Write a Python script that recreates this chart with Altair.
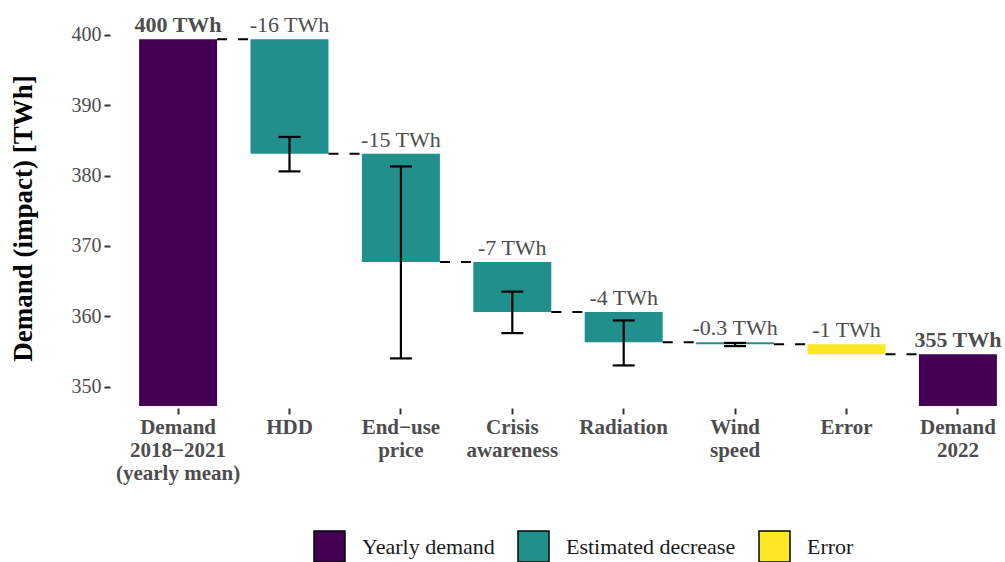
import altair as alt
import pandas as pd

# ---- data ----
categories = ["Demand|2018−2021|(yearly mean)", "HDD", "End−use|price", "Crisis|awareness",
              "Radiation", "Wind|speed", "Error", "Demand|2022"]
types = ["Yearly demand", "Estimated decrease", "Estimated decrease", "Estimated decrease",
         "Estimated decrease", "Estimated decrease", "Error", "Yearly demand"]
demand_start = 399.4
deltas = [-16.3, -15.4, -7.1, -4.3, -0.3, -1.4]
labels = ["400 TWh", "-16 TWh", "-15 TWh", "-7 TWh", "-4 TWh", "-0.3 TWh", "-1 TWh", "355 TWh"]
err_low = [None, 380.6, 354.0, 357.6, 353.0, 355.75, None, None]
err_high = [None, 385.5, 381.3, 363.5, 359.4, 356.2, None, None]
y_min, y_max = 347.23, 400.71

type_domain = ["Yearly demand", "Estimated decrease", "Error"]
type_colors = ["#440154", "#21908C", "#FDE725"]

# ---- build tables ----
rows = []
levels = [demand_start]
cur = demand_start
rows.append(dict(cat=categories[0], type=types[0], lo=y_min, hi=demand_start, top=demand_start,
                 label=labels[0], bold=True))
for i, d in enumerate(deltas, start=1):
    new = cur + d
    rows.append(dict(cat=categories[i], type=types[i], lo=new, hi=cur, top=cur,
                     label=labels[i], bold=False))
    cur = new
    levels.append(cur)
rows.append(dict(cat=categories[-1], type=types[-1], lo=y_min, hi=cur, top=cur,
                 label=labels[-1], bold=True))
bars_df = pd.DataFrame(rows)

conn_df = pd.DataFrame([dict(frm=categories[i], to=categories[i + 1], y=levels[i])
                        for i in range(len(categories) - 1)])

err_df = pd.DataFrame([dict(cat=c, elo=l, ehi=h) for c, l, h in zip(categories, err_low, err_high)
                       if l is not None])

FONT = "Liberation Serif"
x_scale = alt.Scale(domain=categories, paddingInner=0.3, paddingOuter=0.158, align=0.77)
y_scale = alt.Scale(domain=[y_min, y_max], nice=False, zero=False)

x_axis = alt.Axis(title=None, labelExpr="split(datum.label, '|')", labelFont=FONT,
                  labelFontSize=21, labelFontWeight="bold", labelColor="#4d4d4d",
                  labelLineHeight=23, labelAngle=0, labelBaseline="top", labelPadding=2,
                  labelOverlap=False, labelLimit=300,
                  tickSize=6, tickColor="#333333", tickWidth=2, domain=False, offset=2, grid=False)
y_axis = alt.Axis(title="Demand (impact) [TWh]", values=[350, 360, 370, 380, 390, 400],
                  titleFont=FONT, titleFontSize=27, titleFontWeight="bold", titleColor="black",
                  titleX=-87, titleY=188, titleAngle=270, titleAlign="center", titleBaseline="middle",
                  labelFont=FONT, labelFontSize=20, labelColor="#4d4d4d", labelPadding=3,
                  tickSize=6, tickColor="#333333", tickWidth=2, domain=False, offset=2, grid=False)

bars = alt.Chart(bars_df).mark_bar().encode(
    x=alt.X("cat:N", scale=x_scale, axis=x_axis),
    y=alt.Y("lo:Q", scale=y_scale, axis=y_axis),
    y2="hi:Q",
    color=alt.Color("type:N", scale=alt.Scale(domain=type_domain, range=type_colors),
                    legend=alt.Legend(orient="none", legendX=201, legendY=500, direction="horizontal",
                                      title=None, symbolType="square", symbolSize=961,
                                      symbolStrokeColor="black", symbolStrokeWidth=1.5,
                                      symbolOpacity=1, labelFont=FONT, labelFontSize=22,
                                      labelColor="#1a1a1a", labelOffset=16, columnPadding=20,
                                      labelLimit=400, padding=0)),
)

connectors = alt.Chart(conn_df).mark_rule(strokeDash=[10, 11], strokeWidth=2, color="black").encode(
    x=alt.X("frm:N", scale=x_scale, bandPosition=1),
    x2=alt.X2("to:N", bandPosition=0),
    y=alt.Y("y:Q", scale=y_scale),
)

err_rule = alt.Chart(err_df).mark_rule(strokeWidth=2.2, color="black").encode(
    x=alt.X("cat:N", scale=x_scale),
    y=alt.Y("elo:Q", scale=y_scale),
    y2="ehi:Q",
)
cap_lo = alt.Chart(err_df).mark_tick(thickness=2.2, size=22, color="black", opacity=1).encode(
    x=alt.X("cat:N", scale=x_scale),
    y=alt.Y("elo:Q", scale=y_scale),
)
cap_hi = alt.Chart(err_df).mark_tick(thickness=2.2, size=22, color="black", opacity=1).encode(
    x=alt.X("cat:N", scale=x_scale),
    y=alt.Y("ehi:Q", scale=y_scale),
)

text_norm = alt.Chart(bars_df).transform_filter("!datum.bold").mark_text(
    font=FONT, fontSize=22, color="#4d4d4d", baseline="alphabetic", dy=-7).encode(
    x=alt.X("cat:N", scale=x_scale),
    y=alt.Y("top:Q", scale=y_scale),
    text="label:N",
)
text_bold = alt.Chart(bars_df).transform_filter("datum.bold").mark_text(
    font=FONT, fontSize=22, fontWeight="bold", color="#4d4d4d", baseline="alphabetic", dy=-7).encode(
    x=alt.X("cat:N", scale=x_scale),
    y=alt.Y("top:Q", scale=y_scale),
    text="label:N",
)

chart = alt.layer(bars, connectors, err_rule, cap_lo, cap_hi, text_norm, text_bold).properties(
    width=893, height=376,
    padding={"left": 112, "top": 30, "right": 0, "bottom": 156},
    autosize=alt.AutoSizeParams(type="none"),
    background="white",
).configure_view(stroke=None)

chart.save("out.html", embed_options={"renderer": "svg", "actions": False})
